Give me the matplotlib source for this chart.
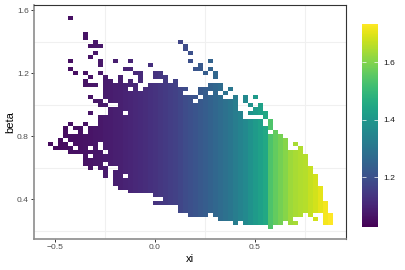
import numpy as np
import matplotlib
matplotlib.use('Agg')
import matplotlib.pyplot as plt

plt.rcParams['font.family'] = ['Liberation Sans', 'DejaVu Sans']

# bins are 0.025 wide on both axes, everything below is in bin numbers
bin_size = 0.025
first_col = -21
first_row = 9
n_rows = 54

# filled beta bins of each xi bin, left to right
column_spans = [
    [(30, 30)], [(29, 29)], [(29, 31)],
    [(29, 30), (32, 34)],
    [(28, 29), (31, 32), (35, 35), (49, 49), (51, 51), (62, 62)],
    [(28, 28), (30, 32), (34, 34), (48, 48)],
    [(28, 34)],
    [(25, 32), (35, 35), (45, 46), (48, 48), (57, 58)],
    [(24, 26), (28, 28), (30, 34), (38, 38), (42, 42), (45, 45), (47, 47), (52, 52), (55, 55)],
    [(25, 34), (41, 41), (45, 45), (53, 53), (55, 56)],
    [(24, 28), (31, 37), (40, 41), (48, 48), (50, 51), (55, 55)],
    [(22, 24), (26, 27), (29, 37), (40, 40), (42, 47)],
    [(25, 39), (41, 46)],
    [(20, 23), (25, 39), (41, 45), (51, 51)],
    [(19, 47)],
    [(19, 21), (23, 37), (39, 45), (49, 49)],
    [(18, 43), (45, 46), (49, 49), (51, 51)],
    [(18, 45), (48, 48)],
    [(18, 43), (46, 48)],
    [(18, 44)],
    [(18, 45), (50, 50)],
    [(15, 15), (17, 45), (47, 48)],
    [(15, 15), (17, 45), (47, 48)],
    [(15, 47)],
    [(15, 45)],
    [(15, 46)],
    [(13, 44), (56, 56)],
    [(13, 42), (44, 44), (54, 55)],
    [(12, 42), (51, 51), (53, 53)],
    [(12, 40), (42, 42), (49, 49)],
    [(12, 41), (43, 44), (49, 50)],
    [(12, 44), (48, 48)],
    [(13, 42), (44, 45), (49, 49), (51, 51)],
    [(12, 45), (47, 48)],
    [(11, 42), (44, 45)],
    [(11, 41), (43, 43)],
    [(11, 41), (44, 44)],
    [(10, 42)],
    [(11, 38)],
    [(10, 36), (41, 42)],
    [(10, 36), (38, 38), (40, 40)],
    [(10, 36), (38, 39), (42, 42)],
    [(10, 36), (38, 40)],
    [(10, 34), (37, 38)],
    [(9, 32), (34, 36)],
    [(10, 33)],
    [(10, 32)],
    [(11, 31)],
    [(10, 28)],
    [(10, 10), (12, 28), (30, 30)],
    [(12, 29)],
    [(13, 27)],
    [(12, 24)],
    [(11, 11), (13, 22)],
    [(13, 19)],
    [(10, 15)],
    [(10, 12)],
]

# colour value of each xi bin
column_values = [
    1.05, 1.05, 1.052, 1.054, 1.056, 1.058, 1.06, 1.063, 1.066, 1.07,
    1.074, 1.078, 1.082, 1.086, 1.09, 1.095, 1.10, 1.106, 1.112, 1.118,
    1.125, 1.132, 1.14, 1.148, 1.156, 1.165, 1.176, 1.19, 1.20, 1.211,
    1.222, 1.232, 1.246, 1.261, 1.275, 1.289, 1.305, 1.324, 1.342, 1.359,
    1.385, 1.409, 1.43, 1.451, 1.536, 1.565, 1.585, 1.605, 1.63, 1.64,
    1.65, 1.655, 1.67, 1.685, 1.705, 1.72, 1.733,
]

value_min = 1.028
value_max = 1.733

xi_ticks = [-0.5, 0.0, 0.5]
xi_minor = [-0.25, 0.25, 0.75]
beta_ticks = [0.4, 0.8, 1.2, 1.6]
beta_minor = [0.2, 0.6, 1.0, 1.4]
legend_ticks = [1.2, 1.4, 1.6]


def px_box(left, top, right, bottom):
    # figure fractions from pixel edges measured on the 405x270 picture
    return [left / 405, 1 - bottom / 270, (right - left) / 405, (bottom - top) / 270]


if __name__ == '__main__':
    # Fill the matrix, columns of xi and rows of beta
    grid = np.full((n_rows, len(column_values)), np.nan)
    for col, spans in enumerate(column_spans):
        for low, high in spans:
            grid[low - first_row:high - first_row + 1, col] = column_values[col]

    xi_edges = (first_col + np.arange(len(column_values) + 1) - 0.5) * bin_size
    beta_edges = (first_row + np.arange(n_rows + 1) - 0.5) * bin_size

    fig = plt.figure(figsize=(4.05, 2.7), dpi=100)
    ax = fig.add_axes(px_box(34, 5, 346, 239.3))
    ax.set_axisbelow(True)

    mesh = ax.pcolormesh(xi_edges, beta_edges, np.ma.masked_invalid(grid),
                         cmap='viridis', vmin=value_min, vmax=value_max,
                         antialiased=False, linewidth=0, zorder=2)

    ax.set_xlim(-0.605, 0.955)
    ax.set_ylim(0.147, 1.632)
    ax.set_xticks(xi_ticks)
    ax.set_xticklabels(['\u22120.5', '0.0', '0.5'])
    ax.set_yticks(beta_ticks)
    ax.set_yticklabels(['0.4', '0.8', '1.2', '1.6'])
    ax.set_xticks(xi_minor, minor=True)
    ax.set_yticks(beta_minor, minor=True)
    ax.grid(which='minor', color='#f0f0f0', linewidth=0.8, zorder=0)
    ax.grid(which='major', visible=False)
    ax.tick_params(which='minor', length=0)
    ax.tick_params(which='major', length=2.2, width=0.7, color='#333333',
                   labelcolor='#4d4d4d', labelsize=6.1, pad=1.5)

    for side in ['top', 'right']:
        ax.spines[side].set_color('#333333')
        ax.spines[side].set_linewidth(0.8)
    for side in ['left', 'bottom']:
        ax.spines[side].set_color('#8c8c8c')
        ax.spines[side].set_linewidth(1.2)

    fig.text(190 / 405, 1 - 259 / 270, 'xi', fontsize=8, ha='center', va='center')
    fig.text(10 / 405, 1 - 122 / 270, 'beta', fontsize=8, rotation=90,
             ha='center', va='center')

    # Colourbar with white ticks inside the bar
    cax = fig.add_axes(px_box(361.7, 24, 378, 226.7))
    cbar = fig.colorbar(mesh, cax=cax, ticks=legend_ticks)
    cbar.outline.set_visible(False)
    cbar.ax.set_yticklabels(['1.2', '1.4', '1.6'])
    cbar.ax.tick_params(direction='in', left=True, right=True, length=3.2,
                        width=0.5, color='white', labelsize=6.1,
                        labelcolor='#1a1a1a', pad=4)

    fig.savefig('out.png', dpi=100)
